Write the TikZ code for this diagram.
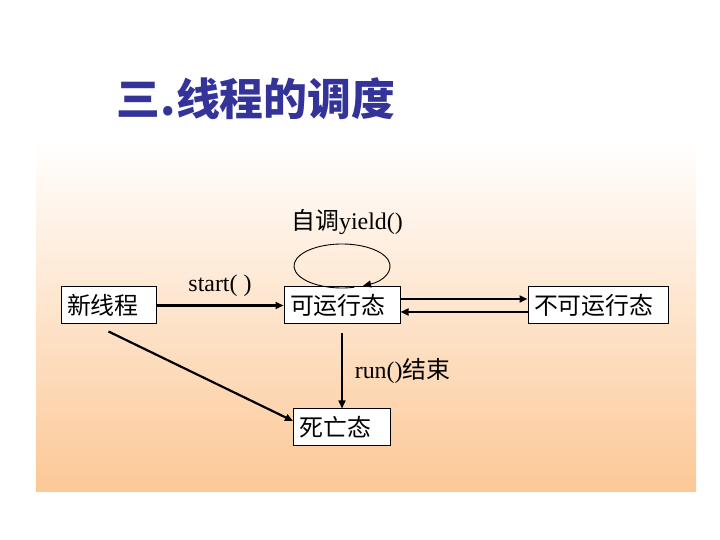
\documentclass[tikz,border=0pt]{standalone}
\usepackage{fontspec}
\setmainfont{Liberation Serif}
\newfontfamily\cjk{Noto Sans CJK SC}
\usetikzlibrary{positioning, arrows.meta}
\definecolor{titleblue}{RGB}{51,51,153}
\definecolor{panelorange}{RGB}{252,200,150}

\begin{document}
\begin{tikzpicture}[
    x=1bp, y=1bp,
    node distance=127bp,
    box/.style={draw=black, fill=white, line width=1pt, minimum height=37bp, inner xsep=6bp, align=left, font=\fontsize{24}{28}\selectfont\cjk},
    edgetext/.style={font=\fontsize{24}{28}\selectfont, inner sep=2bp},
    trans/.style={draw, line width=2.2pt, -{Triangle[length=8bp,width=7bp]}}
]

   % page and shaded panel
   \useasboundingbox (0,0) rectangle (720,540);
   \fill[white] (0,0) rectangle (720,540);
   \shade[top color=white, bottom color=panelorange] (36,48) rectangle (696,400);

   % title
   \node[font=\fontsize{44}{50}\selectfont\cjk\bfseries, text=titleblue] (title) at (256,441) {三.线程的调度};

   % states
   \node[box, text width=83bp] (new) at (108.5,234.5) {新线程};
   \node[box, text width=104bp] (run) [right=of new] {可运行态};
   \node[box, text width=128bp] (block) [right=of run] {不可运行态};
   \node[box, text width=85bp] (dead) [below=84bp of run] {死亡态};

   % yield loop
   \coordinate (yc) at ([yshift=20.5bp]run.north);
   \draw[trans, line width=0.9pt]
      ([shift={(-75:48bp and 22bp)}]yc) arc[start angle=-75, end angle=-424, x radius=48bp, y radius=22bp];
   \node[edgetext] (selftext) at ([xshift=5bp, yshift=44bp]yc) {{\cjk 自调}yield()};

   % transitions
   \draw[trans] (new) -- node[edgetext, above=6bp] {start( )} (run);
   \draw[trans] ([yshift=6.5bp]run.east) -- ([yshift=6.5bp]block.west);
   \draw[trans] ([yshift=-6.5bp]block.west) -- ([yshift=-6.5bp]run.east);
   \draw[trans, line width=1.6pt] ([yshift=-9bp]run.south) -- node[edgetext, right=10bp] {run(){\cjk 结束}} (dead);
   \draw[trans] ([yshift=-7bp]new.south) -- ([yshift=6.5bp]dead.west); % straight to dead
\end{tikzpicture}
\end{document}
